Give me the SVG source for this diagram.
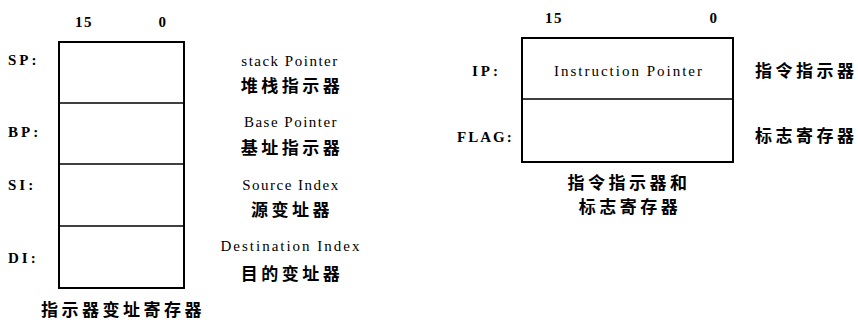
<svg xmlns="http://www.w3.org/2000/svg" width="858" height="320" viewBox="0 0 858 320">
<style>
.box{fill:none;stroke:#000;stroke-width:2}
.ln{stroke:#000;stroke-width:1.6}
.en{font-family:"Liberation Serif","DejaVu Serif",serif;font-size:15px;fill:#000;letter-spacing:1.5px}
.b{font-weight:bold}
.lb{letter-spacing:3px}
.zh{font-family:"Noto Sans CJK SC",sans-serif;font-size:17px;font-weight:bold;fill:#000;letter-spacing:3.5px}
.m{text-anchor:middle}
</style>
<rect width="858" height="320" fill="#fff"/>
<g id="left-registers">
  <text class="en b m" x="84" y="27">15</text>
  <text class="en b m" x="163" y="27">0</text>
  <rect class="box" x="59" y="42" width="125" height="246"/>
  <g id="sp">
    <text class="en b lb" x="8" y="65">SP:</text>
    <text class="en m" x="290" y="66">stack Pointer</text>
    <text class="zh m" x="292" y="92">堆栈指示器</text>
  </g>
  <line class="ln" x1="59" y1="103" x2="184" y2="103"/>
  <g id="bp">
    <text class="en b lb" x="8" y="137">BP:</text>
    <text class="en m" x="291" y="127">Base Pointer</text>
    <text class="zh m" x="292" y="154">基址指示器</text>
  </g>
  <line class="ln" x1="59" y1="164" x2="184" y2="164"/>
  <g id="si">
    <text class="en b lb" x="8" y="190">SI:</text>
    <text class="en m" x="291" y="190">Source Index</text>
    <text class="zh m" x="292" y="216">源变址器</text>
  </g>
  <line class="ln" x1="59" y1="226" x2="184" y2="226"/>
  <g id="di">
    <text class="en b lb" x="8" y="263">DI:</text>
    <text class="en m" x="291" y="251" style="letter-spacing:2px">Destination Index</text>
    <text class="zh m" x="292" y="280">目的变址器</text>
  </g>
  <text class="zh m" x="123" y="316">指示器变址寄存器</text>
</g>
<g id="right-registers">
  <text class="en b m" x="554" y="23">15</text>
  <text class="en b m" x="714" y="23">0</text>
  <rect class="box" x="522" y="38" width="211" height="124"/>
  <g id="ip">
    <text class="en b lb" x="472" y="76">IP:</text>
    <text class="en m" x="629" y="76" style="letter-spacing:2px">Instruction Pointer</text>
    <text class="zh" x="755" y="77">指令指示器</text>
  </g>
  <line class="ln" x1="522" y1="99" x2="733" y2="99"/>
  <g id="flag">
    <text class="en b" x="457" y="142" style="letter-spacing:2px">FLAG:</text>
    <text class="zh" x="755" y="142">标志寄存器</text>
  </g>
  <text class="zh m" x="629" y="189">指令指示器和</text>
  <text class="zh m" x="630" y="213">标志寄存器</text>
</g>
</svg>
